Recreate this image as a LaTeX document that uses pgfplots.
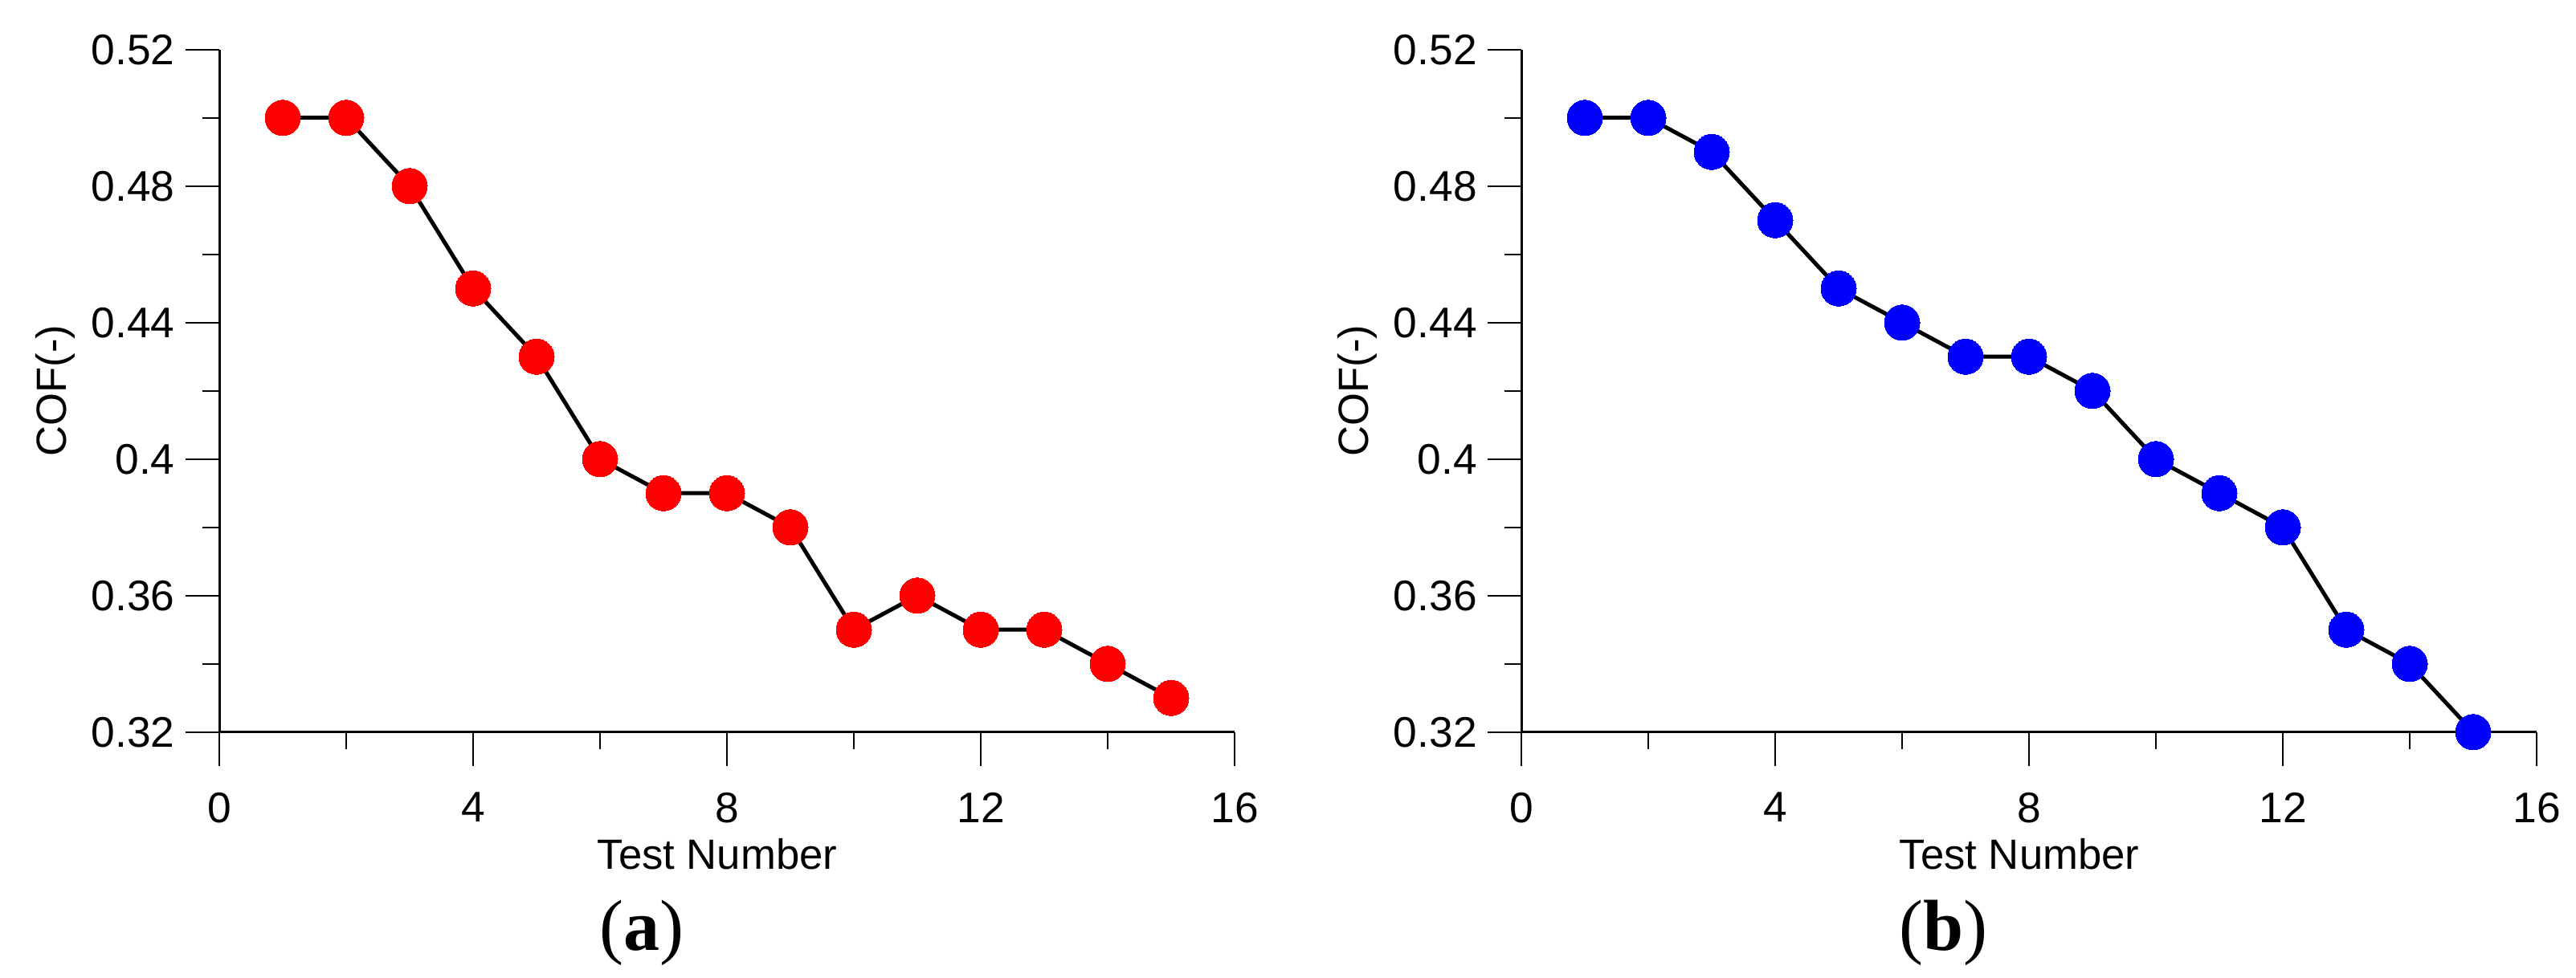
\documentclass[border=0pt]{standalone}
\usepackage{pgfplots}
\pgfplotsset{compat=1.18}
\usepackage{fontspec}
\setmainfont{Liberation Sans}
\newfontfamily\capfont{Liberation Serif}
\pgfplotsset{
  cofstyle/.style={
    scale only axis,
    width=189.6pt, height=127.5pt,
    anchor=south west,
    xmin=0, xmax=16, ymin=0.32, ymax=0.52,
    axis lines=left,
    axis line style={-, line width=0.45pt},
    clip=false,
    xtick={0,4,8,12,16},
    ytick={0.32,0.36,0.40,0.44,0.48,0.52},
    yticklabels={0.32,0.36,0.4,0.44,0.48,0.52},
    xticklabels={0,4,8,12,16},
    minor x tick num=1, minor y tick num=1,
    tick align=outside,
    major tick length=6.3pt, minor tick length=3.15pt,
    every tick/.style={black, line width=0.35pt},
    /pgf/number format/assume math mode=true,
    tick label style={font=\fontsize{8}{9}\selectfont, inner sep=0pt},
    xticklabel style={yshift=-4.8pt},
    yticklabel style={xshift=-1.8pt},
    label style={font=\fontsize{7.9}{9}\selectfont, inner sep=0pt},
    xlabel={Test Number},
    ylabel={COF(-)},
    xlabel style={at={(axis description cs:0.4905,-0.2004)}, anchor=base},
    ylabel style={at={(axis description cs:-0.1511,0.5)}, anchor=base},
  }
}
\begin{document}
\begin{tikzpicture}
\path[use as bounding box] (0,0) rectangle (481.05pt,182.55pt);
\begin{axis}[cofstyle, at={(40.95pt,45.795pt)}]
\addplot[black, line width=0.75pt, mark=*, mark size=3.3pt,
  mark options={fill=red, draw=red, line width=0pt}] coordinates {
  (1,0.50) (2,0.50) (3,0.48) (4,0.45) (5,0.43) (6,0.40) (7,0.39) (8,0.39)
  (9,0.38) (10,0.35) (11,0.36) (12,0.35) (13,0.35) (14,0.34) (15,0.33)};
\node[anchor=base, inner sep=0pt, font=\capfont\fontsize{13.5}{15}\selectfont]
  at (axis description cs:0.416,-0.3192) {(\textbf{a})};
\end{axis}
\begin{axis}[cofstyle, at={(284.1pt,45.795pt)}]
\addplot[black, line width=0.75pt, mark=*, mark size=3.3pt,
  mark options={fill=blue, draw=blue, line width=0pt}] coordinates {
  (1,0.50) (2,0.50) (3,0.49) (4,0.47) (5,0.45) (6,0.44) (7,0.43) (8,0.43)
  (9,0.42) (10,0.40) (11,0.39) (12,0.38) (13,0.35) (14,0.34) (15,0.32)};
\node[anchor=base, inner sep=0pt, font=\capfont\fontsize{13.5}{15}\selectfont]
  at (axis description cs:0.416,-0.3192) {(\textbf{b})};
\end{axis}
\end{tikzpicture}
\end{document}
